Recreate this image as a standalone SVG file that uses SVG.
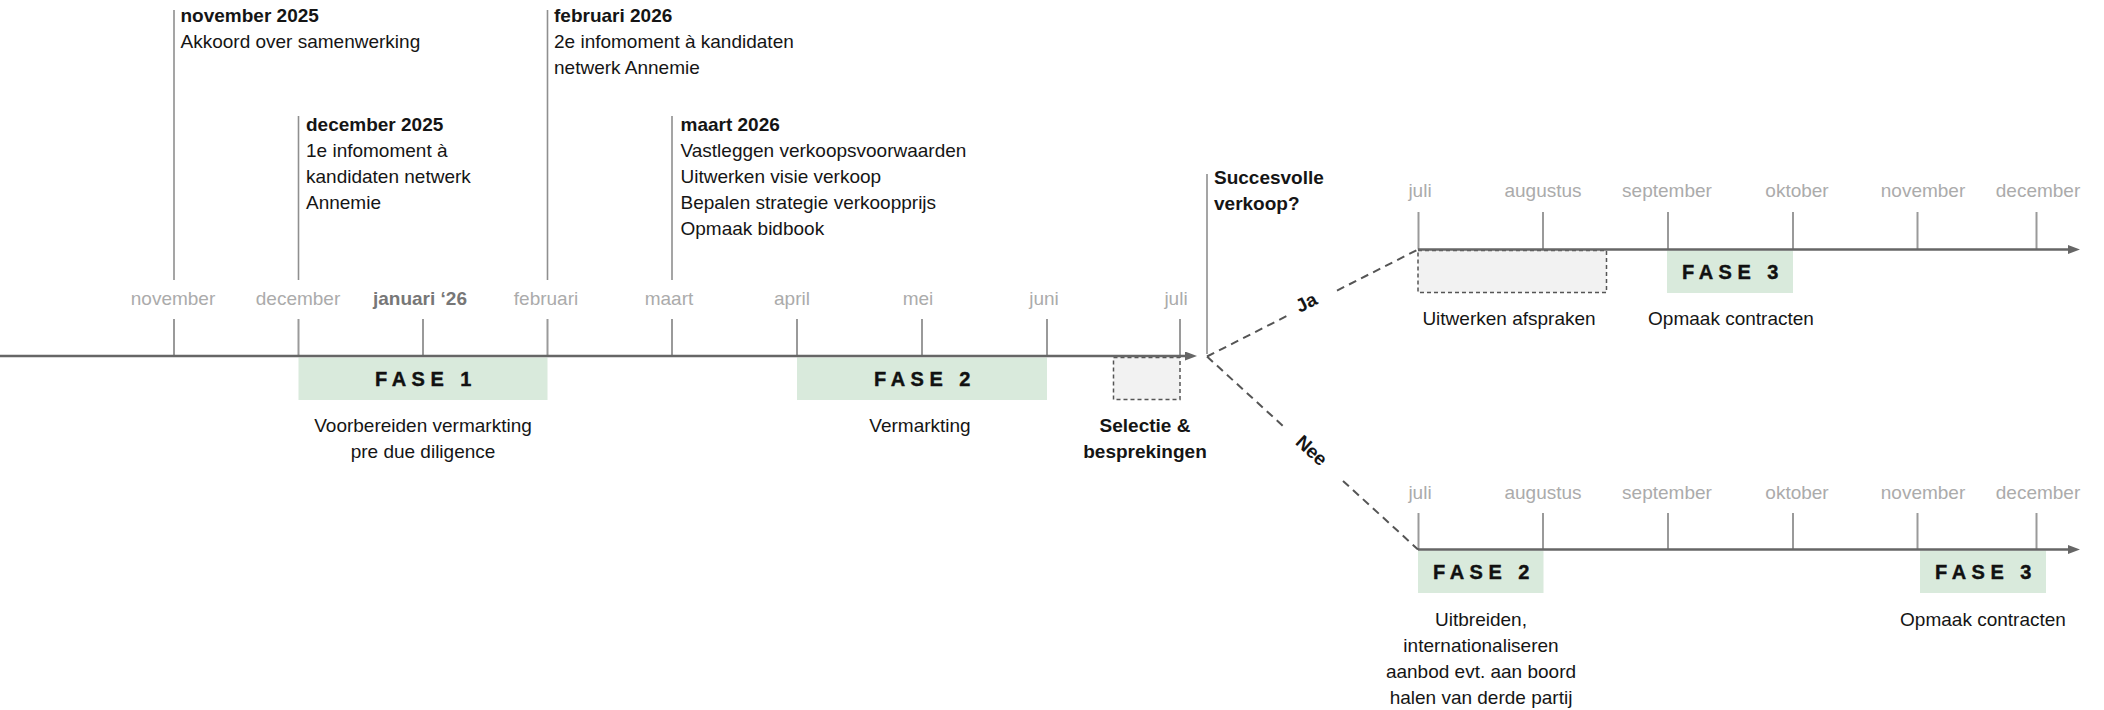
<svg xmlns="http://www.w3.org/2000/svg" width="2104" height="710" viewBox="0 0 2104 710">
<style>
  text { font-family: "Liberation Sans", Arial, sans-serif; font-size: 19px; fill: #151515; }
  .b { font-weight: bold; }
  .month { fill: #ababab; text-anchor: middle; }
  .monthb { fill: #777; font-weight: bold; text-anchor: middle; }
  .c { text-anchor: middle; }
  .fase { font-weight: bold; font-size: 20px; letter-spacing: 5.5px; text-anchor: middle; fill: #111; stroke: #111; stroke-width: 0.4; }
  .tick { stroke: #9a9a9a; stroke-width: 2; }
  .evline { stroke: #8f8f8f; stroke-width: 1.6; }
  .axis { stroke: #666; stroke-width: 2.6; fill: none; }
  .branch { stroke: #555; stroke-width: 2; stroke-dasharray: 8 5.5; fill: none; }
  .green { fill: #d9eadc; }
  .pend { fill: #f2f2f2; stroke: #555; stroke-width: 1.5; stroke-dasharray: 4 3; }
</style>
<defs>
  <marker id="arr" markerUnits="userSpaceOnUse" markerWidth="13" markerHeight="10" refX="0" refY="4.5" orient="auto">
    <path d="M0,0 L12,4.5 L0,9 z" fill="#666"/>
  </marker>
</defs>

<!-- main timeline ticks & month labels -->
<g id="main-months">
  <line class="tick" x1="174" y1="319" x2="174" y2="356"/>
  <line class="tick" x1="298.5" y1="319" x2="298.5" y2="356"/>
  <line class="tick" x1="423" y1="319" x2="423" y2="356"/>
  <line class="tick" x1="547.5" y1="319" x2="547.5" y2="356"/>
  <line class="tick" x1="672" y1="319" x2="672" y2="356"/>
  <line class="tick" x1="797" y1="319" x2="797" y2="356"/>
  <line class="tick" x1="922" y1="319" x2="922" y2="356"/>
  <line class="tick" x1="1047" y1="319" x2="1047" y2="356"/>
  <line class="tick" x1="1180" y1="319" x2="1180" y2="356"/>
  <text class="month" x="173" y="305">november</text>
  <text class="month" x="298" y="305">december</text>
  <text class="monthb" x="420" y="305">januari ‘26</text>
  <text class="month" x="546" y="305">februari</text>
  <text class="month" x="669" y="305">maart</text>
  <text class="month" x="792" y="305">april</text>
  <text class="month" x="918" y="305">mei</text>
  <text class="month" x="1044" y="305">juni</text>
  <text class="month" x="1176" y="305">juli</text>
</g>

<!-- events -->
<g id="event-nov2025">
  <line class="evline" x1="174" y1="10" x2="174" y2="280"/>
  <text class="b" x="180.5" y="22">november 2025</text>
  <text x="180.5" y="48">Akkoord over samenwerking</text>
</g>
<g id="event-dec2025">
  <line class="evline" x1="298.5" y1="116" x2="298.5" y2="280"/>
  <text class="b" x="306" y="131">december 2025</text>
  <text x="306" y="157">1e infomoment à</text>
  <text x="306" y="183">kandidaten netwerk</text>
  <text x="306" y="209">Annemie</text>
</g>
<g id="event-feb2026">
  <line class="evline" x1="547.5" y1="10" x2="547.5" y2="280"/>
  <text class="b" x="554" y="22">februari 2026</text>
  <text x="554" y="48">2e infomoment à kandidaten</text>
  <text x="554" y="74">netwerk Annemie</text>
</g>
<g id="event-mrt2026">
  <line class="evline" x1="672" y1="116" x2="672" y2="280"/>
  <text class="b" x="680.5" y="131">maart 2026</text>
  <text x="680.5" y="157">Vastleggen verkoopsvoorwaarden</text>
  <text x="680.5" y="183">Uitwerken visie verkoop</text>
  <text x="680.5" y="209">Bepalen strategie verkoopprijs</text>
  <text x="680.5" y="235">Opmaak bidbook</text>
</g>
<g id="decision">
  <line class="evline" x1="1207" y1="174" x2="1207" y2="354"/>
  <text class="b" x="1214" y="184">Succesvolle</text>
  <text class="b" x="1214" y="210">verkoop?</text>
</g>

<!-- phases main -->
<g id="fase1">
  <rect class="green" x="298.5" y="357.5" width="249" height="42.5"/>
  <text class="fase" x="426" y="385.5">FASE 1</text>
  <text class="c" x="423" y="432">Voorbereiden vermarkting</text>
  <text class="c" x="423" y="458">pre due diligence</text>
</g>
<g id="fase2">
  <rect class="green" x="797" y="357.5" width="250" height="42.5"/>
  <text class="fase" x="925" y="385.5">FASE 2</text>
  <text class="c" x="920" y="432">Vermarkting</text>
</g>
<g id="selectie">
  <rect class="pend" x="1113.5" y="357.5" width="66.5" height="42"/>
  <text class="b c" x="1145" y="432">Selectie &amp;</text>
  <text class="b c" x="1145" y="458">besprekingen</text>
</g>

<!-- upper (Ja) timeline -->
<g id="ja-months">
  <line class="tick" x1="1418.5" y1="212" x2="1418.5" y2="249.5"/>
  <line class="tick" x1="1543" y1="212" x2="1543" y2="249.5"/>
  <line class="tick" x1="1668" y1="212" x2="1668" y2="249.5"/>
  <line class="tick" x1="1793" y1="212" x2="1793" y2="249.5"/>
  <line class="tick" x1="1917.5" y1="212" x2="1917.5" y2="249.5"/>
  <line class="tick" x1="2036.5" y1="212" x2="2036.5" y2="249.5"/>
  <text class="month" x="1420" y="197">juli</text>
  <text class="month" x="1543" y="197">augustus</text>
  <text class="month" x="1667" y="197">september</text>
  <text class="month" x="1797" y="197">oktober</text>
  <text class="month" x="1923" y="197">november</text>
  <text class="month" x="2038" y="197">december</text>
</g>
<g id="ja-afspraken">
  <rect class="pend" x="1418" y="250.5" width="188.5" height="42"/>
  <text class="c" x="1509" y="325">Uitwerken afspraken</text>
</g>
<g id="ja-fase3">
  <rect class="green" x="1667" y="250.5" width="126" height="42.5"/>
  <text class="fase" x="1733" y="278.5">FASE 3</text>
  <text class="c" x="1731" y="325">Opmaak contracten</text>
</g>

<!-- lower (Nee) timeline -->
<g id="nee-months">
  <line class="tick" x1="1418.5" y1="513" x2="1418.5" y2="549.5"/>
  <line class="tick" x1="1543" y1="513" x2="1543" y2="549.5"/>
  <line class="tick" x1="1668" y1="513" x2="1668" y2="549.5"/>
  <line class="tick" x1="1793" y1="513" x2="1793" y2="549.5"/>
  <line class="tick" x1="1917.5" y1="513" x2="1917.5" y2="549.5"/>
  <line class="tick" x1="2036.5" y1="513" x2="2036.5" y2="549.5"/>
  <text class="month" x="1420" y="499">juli</text>
  <text class="month" x="1543" y="499">augustus</text>
  <text class="month" x="1667" y="499">september</text>
  <text class="month" x="1797" y="499">oktober</text>
  <text class="month" x="1923" y="499">november</text>
  <text class="month" x="2038" y="499">december</text>
</g>
<g id="nee-fase2">
  <rect class="green" x="1418" y="550.5" width="125.5" height="42.5"/>
  <text class="fase" x="1484" y="578.5">FASE 2</text>
  <text class="c" x="1481" y="626">Uitbreiden,</text>
  <text class="c" x="1481" y="652">internationaliseren</text>
  <text class="c" x="1481" y="678">aanbod evt. aan boord</text>
  <text class="c" x="1481" y="704">halen van derde partij</text>
</g>
<g id="nee-fase3">
  <rect class="green" x="1920" y="550.5" width="126" height="42.5"/>
  <text class="fase" x="1986" y="578.5">FASE 3</text>
  <text class="c" x="1983" y="626">Opmaak contracten</text>
</g>

<!-- connectors -->
<g id="connectors">
  <line class="axis" x1="0" y1="356" x2="1185" y2="356" marker-end="url(#arr)"/>
  <line class="axis" x1="1418" y1="249.5" x2="2068" y2="249.5" marker-end="url(#arr)"/>
  <line class="axis" x1="1418" y1="549.5" x2="2068" y2="549.5" marker-end="url(#arr)"/>
  <line class="branch" x1="1207" y1="356.5" x2="1288" y2="315.4"/>
  <line class="branch" x1="1337" y1="290.6" x2="1418" y2="249.5"/>
  <line class="branch" x1="1207" y1="356.5" x2="1285" y2="427.8"/>
  <line class="branch" x1="1343" y1="480.9" x2="1418" y2="549.5"/>
  <text class="b c" transform="translate(1306,302) rotate(-26.9)" y="7">Ja</text>
  <text class="b c" transform="translate(1312,450) rotate(42.4)" y="7">Nee</text>
</g>
</svg>
